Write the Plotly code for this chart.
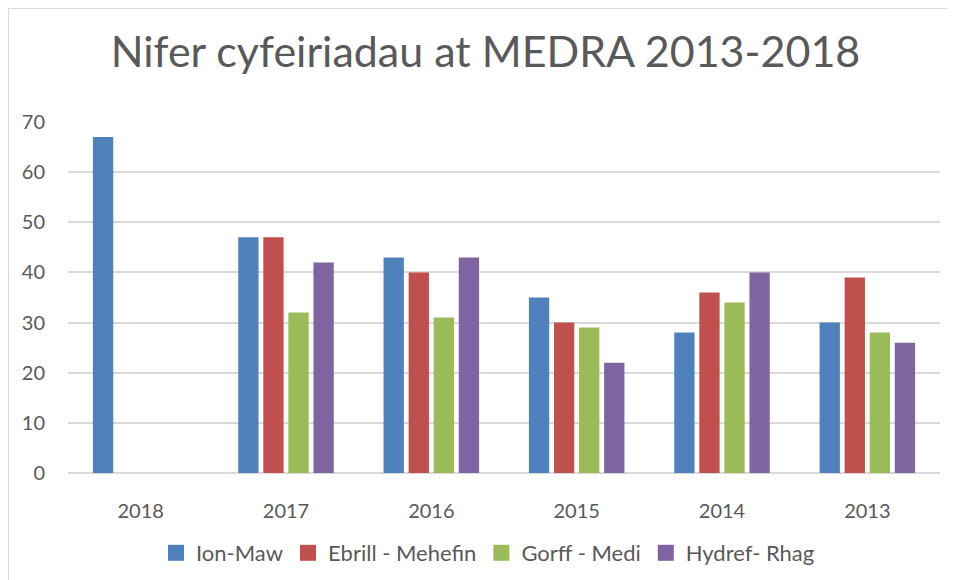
import plotly.graph_objects as go

categories = ["2018", "2017", "2016", "2015", "2014", "2013"]
series_names = ["Ion-Maw", "Ebrill - Mehefin", "Gorff - Medi", "Hydref- Rhag"]
ion_maw = [67, 47, 43, 35, 28, 30]
ebrill_mehefin = [None, 47, 40, 30, 36, 39]
gorff_medi = [None, 32, 31, 29, 34, 28]
hydref_rhag = [None, 42, 43, 22, 40, 26]
colors = ["#4F81BD", "#C0504D", "#9BBB59", "#8064A2"]
y_ticks = [0, 10, 20, 30, 40, 50, 60, 70]

W, H = 955, 580
ml, mr, mt, mb = 60, 23, 114, 115
ph = H - mt - mb
pw = W - ml - mr

fig = go.Figure()
for name, vals, col in zip(series_names, [ion_maw, ebrill_mehefin, gorff_medi, hydref_rhag], colors):
    fig.add_trace(go.Bar(x=categories, y=vals, name=name, legendgroup=name, showlegend=False,
                         marker=dict(color=col, line=dict(width=0))))
for name, col in zip(series_names, colors):
    fig.add_trace(go.Scatter(x=[None], y=[None], mode="markers", name=name, legendgroup=name,
                             marker=dict(symbol="square", size=17, color=col, line=dict(width=0))))

font = "Lato, 'Open Sans', sans-serif"
fig.update_layout(
    width=W, height=H,
    margin=dict(l=ml, r=mr, t=mt, b=mb, autoexpand=False),
    paper_bgcolor="white", plot_bgcolor="white",
    barmode="group", bargap=0.31, bargroupgap=0.19,
    title=dict(text="Nifer cyfeiriadau at MEDRA 2013-2018", x=0.5, xanchor="center",
               y=1 - 44 / H, yanchor="middle", font=dict(family=font, size=43, color="#595959")),
    font=dict(family=font, size=20, color="#595959"),
    xaxis=dict(type="category", showgrid=False, showline=False, ticks="",
               tickfont=dict(size=20, color="#595959"), ticklabelstandoff=24),
    yaxis=dict(range=[0, 70], tickvals=y_ticks, showgrid=True, gridcolor="#D9D9D9", gridwidth=2,
               zeroline=True, zerolinecolor="#D9D9D9", zerolinewidth=2, ticks="", ticklen=0,
               tickfont=dict(size=20, color="#595959"), ticklabelstandoff=22),
    legend=dict(orientation="h", x=(480 - ml) / pw, xref="paper", xanchor="center", y=-80 / ph, yanchor="middle",
                font=dict(size=22, color="#595959"), itemwidth=30, tracegroupgap=0),
    showlegend=True,
)
# chart border (outer frame)
fig.add_shape(type="rect", xref="paper", yref="paper",
              x0=-ml / pw, x1=1 + mr / pw,
              y0=-mb / ph, y1=1 + mt / ph,
              line=dict(color="#D9D9D9", width=2), fillcolor="rgba(0,0,0,0)", layer="below")

fig.write_html("out.html")
